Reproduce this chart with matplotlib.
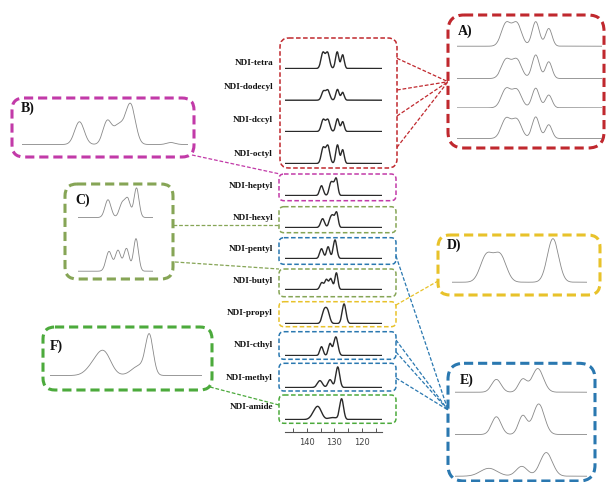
import numpy as np
import matplotlib.pyplot as plt
from matplotlib.patches import FancyBboxPatch

W, H = 607, 482

# stacked 13C spectra, peaks as (shift ppm, height, width ppm)
names = ['NDI-tetra', 'NDI-dodecyl', 'NDI-decyl', 'NDI-octyl', 'NDI-heptyl', 'NDI-hexyl',
         'NDI-pentyl', 'NDI-butyl', 'NDI-propyl', 'NDI-ethyl', 'NDI-methyl', 'NDI-amide']
label_text = ['NDI-tetra', 'NDI-dodecyl', 'NDI-dccyl', 'NDI-octyl', 'NDI-heptyl', 'NDI-hexyl',
              'NDI-pentyl', 'NDI-butyl', 'NDI-propyl', 'NDI-cthyl', 'NDI-methyl', 'NDI-amide']
peaks_tetra = [(134.2, 16, 0.7), (132.5, 16, 0.7), (129.0, 17, 0.6), (127.0, 14, 0.55)]
peaks_dodecyl = [(134.0, 9, 0.7), (132.4, 10, 0.7), (128.9, 11, 0.6), (127.0, 8, 0.55)]
peaks_decyl = [(134.1, 12, 0.7), (132.4, 12, 0.7), (128.9, 13, 0.6), (127.0, 10, 0.55)]
peaks_octyl = [(134.1, 16, 0.7), (132.4, 18, 0.7), (128.9, 19, 0.6), (127.0, 14, 0.55)]
peaks_heptyl = [(134.7, 10, 0.65), (131.4, 11, 0.6), (130.4, 9, 0.6), (129.3, 16, 0.55)]
peaks_hexyl = [(134.3, 9, 0.7), (131.5, 8, 0.6), (130.5, 10, 0.6), (129.2, 15, 0.55)]
peaks_pentyl = [(134.7, 10, 0.65), (132.3, 12, 0.6), (129.8, 19, 0.65)]
peaks_butyl = [(134.6, 7, 0.65), (132.9, 10, 0.6), (131.3, 11, 0.6), (129.3, 17, 0.55)]
peaks_propyl = [(133.8, 12, 0.75), (132.5, 12, 0.75), (126.5, 20, 0.7)]
peaks_ethyl = [(134.7, 9, 0.6), (131.6, 12, 0.6), (129.5, 19, 0.75)]
peaks_methyl = [(135.3, 7, 0.9), (131.6, 8, 0.75), (128.8, 21, 0.7)]
peaks_amide = [(137.4, 5, 1.2), (135.8, 11, 1.2), (130.5, 2, 1.5), (127.4, 21, 0.7)]
stack_peaks = [peaks_tetra, peaks_dodecyl, peaks_decyl, peaks_octyl, peaks_heptyl, peaks_hexyl,
               peaks_pentyl, peaks_butyl, peaks_propyl, peaks_ethyl, peaks_methyl, peaks_amide]

# zoomed spectra in the callouts
peaks_A = [
    [(135.2, 23, 0.65), (133.7, 23, 0.65), (131.1, 25, 0.5), (129.3, 18, 0.45)],
    [(135.2, 19, 0.65), (133.7, 19, 0.65), (131.1, 24, 0.5), (129.3, 17, 0.45)],
    [(135.2, 19, 0.65), (133.7, 18, 0.65), (131.1, 20, 0.5), (129.3, 13, 0.45)],
    [(135.2, 20, 0.65), (133.7, 19, 0.65), (131.1, 22, 0.5), (129.3, 14, 0.45)],
]
peaks_B = [[(134.6, 23, 0.45), (132.0, 23, 0.4), (130.9, 19, 0.5), (129.8, 40, 0.45), (126.0, 2, 0.4)]]
peaks_C = [
    [(134.0, 18, 0.6), (131.1, 15, 0.6), (130.0, 17, 0.5), (128.3, 30, 0.5)],
    [(133.8, 20, 0.6), (132.0, 21, 0.55), (130.3, 23, 0.55), (128.4, 33, 0.5)],
]
peaks_D = [[(132.9, 27, 0.55), (131.7, 27, 0.55), (127.0, 44, 0.5)]]
peaks_E = [
    [(133.6, 13, 0.5), (130.8, 13, 0.45), (129.2, 24, 0.6)],
    [(133.6, 18, 0.5), (130.8, 19, 0.45), (129.1, 31, 0.6)],
    [(134.4, 8, 0.9), (130.9, 10, 0.6), (128.3, 24, 0.65)],
]
peaks_F = [[(136.1, 11, 1.0), (134.8, 20, 0.9), (130.2, 10, 1.0), (128.9, 38, 0.5)]]

red, mag, olive, blue, yel, grn = '#c0282e', '#c23aa8', '#86a556', '#2a78b0', '#e8c22a', '#4caa3c'
stack_colors = [None, None, None, None, mag, olive, blue, olive, yel, blue, blue, grn]
serif = 'Liberation Serif'


def curve(ppm, peaks):
    y = np.zeros_like(ppm)
    for c, h, w in peaks:
        y += h * np.exp(-0.5 * ((ppm - c) / w) ** 2)
    return y


def spec_ax(x0, x1, ybase, height, xlim):
    a = fig.add_axes([x0 / W, 1 - ybase / H, (x1 - x0) / W, height / H])
    a.set_xlim(*xlim)
    a.set_ylim(-0.5, height)
    a.axis('off')
    a.patch.set_alpha(0)
    return a


def draw(a, peaks, color, lw):
    lo, hi = sorted(a.get_xlim())
    ppm = np.linspace(lo, hi, 800)
    a.plot(ppm, curve(ppm, peaks), color=color, lw=lw)


def rbox(x0, y0, x1, y1, color, lw, r):
    p = FancyBboxPatch((x0, y0), x1 - x0, y1 - y0, boxstyle=f'round,pad=0,rounding_size={r}',
                       fill=False, ec=color, lw=lw, ls=(0, (3, 1.6)))
    bg.add_patch(p)


def link(p, q, color):
    bg.plot([p[0], q[0]], [p[1], q[1]], color=color, lw=0.9, ls=(0, (3, 1.5)))


fig = plt.figure(figsize=(W / 100, H / 100), dpi=100)
bg = fig.add_axes([0, 0, 1, 1])
bg.set_xlim(0, W)
bg.set_ylim(H, 0)
bg.axis('off')

# central stack
baselines = [69, 100.7, 132, 164, 196, 228, 259, 290, 324, 356, 388, 420]
label_y = [63, 87, 120, 154, 186, 218, 249, 281, 313, 345, 378, 407]
stack_xlim = (148, 112.7)
for i, pk in enumerate(stack_peaks):
    a = spec_ax(285, 382, baselines[i], 26, stack_xlim)
    draw(a, pk, '#2a2a2a', 1.0)
    bg.text(273, label_y[i], label_text[i], ha='right', va='center', fontsize=6.6,
            fontweight='bold', family=serif, color='#111111')

# stack boxes
rbox(280, 38, 397, 168, red, 1.1, 9)
box_y = [(174, 200.7), (206.7, 232.7), (237.7, 264.3), (269, 296.7), (301.7, 326.7),
         (331.7, 359.3), (363.3, 391), (395, 423.3)]
for (y0, y1), c in zip(box_y, stack_colors[4:]):
    rbox(279, y0, 396, y1, c, 1.1, 5)

# ppm axis
ax = fig.add_axes([285 / W, 1 - 432 / H, 97 / W, 20 / H])
ax.set_xlim(*stack_xlim)
ax.patch.set_alpha(0)
for s in ['top', 'left', 'right']:
    ax.spines[s].set_visible(False)
ax.spines['bottom'].set_color('#555555')
ax.spines['bottom'].set_linewidth(0.8)
ax.set_yticks([])
ax.set_xticks([145, 140, 135, 130, 125, 120, 115])
ax.set_xticklabels(['', '140', '', '130', '', '120', ''])
ax.tick_params(axis='x', direction='in', length=3, width=0.7, color='#555555',
               labelsize=6, labelcolor='#444444', pad=4)

# callout boxes with zoomed spectra
rbox(448, 15, 604, 148, red, 2.2, 16)
for pk, yb in zip(peaks_A, [46.7, 79, 108.3, 139]):
    draw(spec_ax(456.7, 601.7, yb, 28, (142, 122)), pk, '#888888', 0.6)

rbox(12, 98, 194, 157, mag, 2.2, 12)
draw(spec_ax(22, 188, 145, 45, (140, 124.4)), peaks_B[0], '#888888', 0.6)

rbox(65, 184, 173, 279, olive, 2.2, 12)
for pk, yb in zip(peaks_C, [218, 271.7]):
    draw(spec_ax(78, 153, yb, 35, (140, 125)), pk, '#888888', 0.6)

rbox(438, 235, 600, 295, yel, 2.2, 12)
draw(spec_ax(451.7, 586.7, 282.7, 46, (136, 124)), peaks_D[0], '#888888', 0.6)

rbox(448, 363.3, 595, 481, blue, 2.2, 16)
for pk, yb in zip(peaks_E, [392.7, 435, 476.7]):
    draw(spec_ax(455, 586.7, yb, 34, (138, 124)), pk, '#888888', 0.6)

rbox(43, 327, 212, 390, grn, 2.2, 12)
draw(spec_ax(50, 201.7, 376, 44, (142, 122)), peaks_F[0], '#888888', 0.6)

# callout labels
for t, x, y in [('A)', 458, 31.7), ('B)', 20.7, 108), ('C)', 75, 200.7),
                ('D)', 446.7, 245), ('E)', 459.3, 380), ('F)', 49.3, 346.7)]:
    bg.text(x, y, t, ha='left', va='center', fontsize=10, fontweight='bold',
            family=serif, color='#111111')

# connector lines
for y in [58.3, 90, 116, 147.3]:
    link((397, y), (448, 81.7), red)
link((192, 155), (280, 174), mag)
link((173, 225), (279, 225), olive)
link((175, 262), (279, 269), olive)
link((396, 305), (438, 281), yel)
for y in [256, 340, 352, 378]:
    link((396, y), (448, 410), blue)
link((210, 387), (279, 405), grn)

fig.savefig('out.png', dpi=100)
